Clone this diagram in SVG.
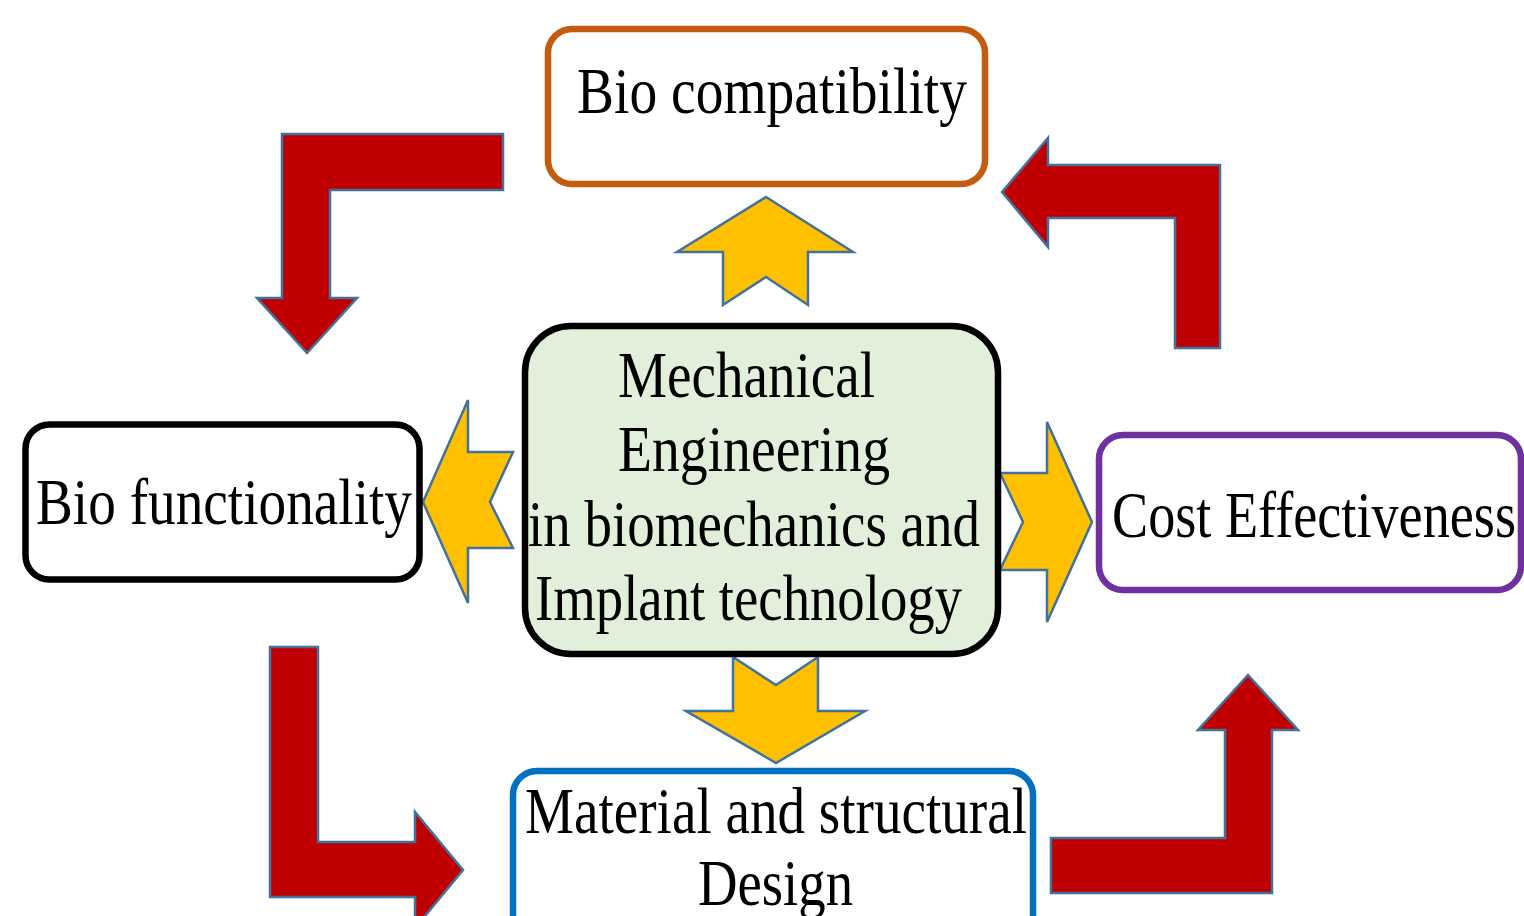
<svg xmlns="http://www.w3.org/2000/svg" width="1524" height="916" viewBox="0 0 1524 916">
  <style>
    .lbl { font-family: "Liberation Serif", "Times New Roman", serif; font-size: 66px; fill: #000; }
    .box { fill: #fff; stroke-width: 6.5; }
    .bend { fill: #C00000; stroke: #41719C; stroke-width: 2.5; stroke-linejoin: miter; }
    .burst { fill: #FFC000; stroke: #41719C; stroke-width: 2.5; stroke-linejoin: miter; }
  </style>
  <rect width="1524" height="916" fill="#fff"/>

  <!-- flow arrows -->
  <g id="connectors">
    <!-- bent arrows around the cycle -->
    <polygon class="bend" points="282,134 503,134 503,190 330,190 330,298 357,298 307,353 257,298 282,298"/>
    <polygon class="bend" points="1002,192 1048,138 1048,165 1220,165 1220,348 1175,348 1175,218 1048,218 1048,247"/>
    <polygon class="bend" points="270,647 318,647 318,842 415,842 415,812 463,870 415,928 415,897 270,897"/>
    <polygon class="bend" points="1248,675 1298,730 1272,730 1272,893 1051,893 1051,838 1225,838 1225,730 1198,730"/>
    <!-- notched arrows out of the centre -->
    <polygon class="burst" points="766,197 853,252 808,252 808,305 766,277 723,305 723,252 677,252"/>
    <polygon class="burst" points="423,502 468,400 468,452 513,452 490,502 513,548 468,548 468,603"/>
    <polygon class="burst" points="1092,522 1047,622 1047,570 1000,570 1023,522 1000,473 1047,473 1047,422"/>
    <polygon class="burst" points="733,657 776,685 818,657 818,711 865,711 776,763 686,711 733,711"/>
  </g>

  <g id="center">
    <rect x="525" y="326" width="473" height="328" rx="46" fill="#E2EFDA" stroke="#000" stroke-width="6.5"/>
    <text class="lbl" x="618" y="397" textLength="257" lengthAdjust="spacingAndGlyphs">Mechanical</text>
    <text class="lbl" x="618" y="471" textLength="272" lengthAdjust="spacingAndGlyphs">Engineering</text>
    <text class="lbl" x="528" y="546" textLength="452" lengthAdjust="spacingAndGlyphs">in biomechanics and</text>
    <text class="lbl" x="535" y="620" textLength="427" lengthAdjust="spacingAndGlyphs">Implant technology</text>
  </g>

  <g id="bio-compatibility">
    <rect class="box" x="548" y="29" width="437" height="155" rx="24" stroke="#C55A11"/>
    <text class="lbl" x="577" y="113" textLength="390" lengthAdjust="spacingAndGlyphs">Bio compatibility</text>
  </g>

  <g id="bio-functionality">
    <rect class="box" x="25.5" y="424.5" width="394" height="155" rx="24" stroke="#000"/>
    <text class="lbl" x="36" y="524" textLength="376" lengthAdjust="spacingAndGlyphs">Bio functionality</text>
  </g>

  <g id="cost-effectiveness">
    <rect class="box" x="1099" y="435" width="422" height="155" rx="24" stroke="#7030A0"/>
    <text class="lbl" x="1112" y="537" textLength="404" lengthAdjust="spacingAndGlyphs">Cost Effectiveness</text>
  </g>

  <g id="material-design">
    <rect class="box" x="513" y="771" width="520" height="170" rx="24" stroke="#0070C0"/>
    <text class="lbl" x="525" y="833" textLength="502" lengthAdjust="spacingAndGlyphs">Material and structural</text>
    <text class="lbl" x="698" y="905" textLength="155" lengthAdjust="spacingAndGlyphs">Design</text>
  </g>
</svg>
